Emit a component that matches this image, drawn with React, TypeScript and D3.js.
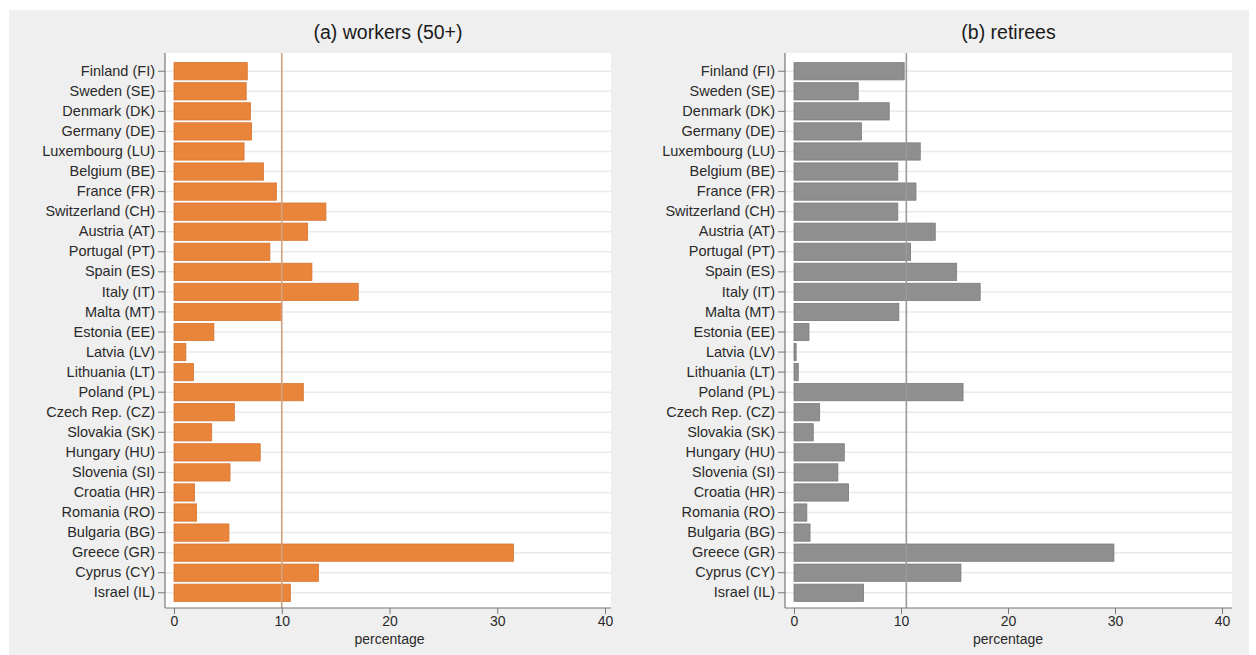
import React, { useEffect, useRef } from 'react';
import * as d3 from 'd3';

const countries = [
  'Finland (FI)', 'Sweden (SE)', 'Denmark (DK)', 'Germany (DE)', 'Luxembourg (LU)',
  'Belgium (BE)', 'France (FR)', 'Switzerland (CH)', 'Austria (AT)', 'Portugal (PT)',
  'Spain (ES)', 'Italy (IT)', 'Malta (MT)', 'Estonia (EE)', 'Latvia (LV)',
  'Lithuania (LT)', 'Poland (PL)', 'Czech Rep. (CZ)', 'Slovakia (SK)', 'Hungary (HU)',
  'Slovenia (SI)', 'Croatia (HR)', 'Romania (RO)', 'Bulgaria (BG)', 'Greece (GR)',
  'Cyprus (CY)', 'Israel (IL)',
];

const workers = [
  6.8, 6.7, 7.1, 7.2, 6.5, 8.3, 9.5, 14.1, 12.4, 8.9, 12.8, 17.1, 10.0, 3.7, 1.1,
  1.8, 12.0, 5.6, 3.5, 8.0, 5.2, 1.9, 2.1, 5.1, 31.5, 13.4, 10.8,
];

const retirees = [
  10.3, 6.0, 8.9, 6.3, 11.8, 9.7, 11.4, 9.7, 13.2, 10.9, 15.2, 17.4, 9.8, 1.4, 0.2,
  0.4, 15.8, 2.4, 1.8, 4.7, 4.1, 5.1, 1.2, 1.5, 29.9, 15.6, 6.5,
];

const xTicks = [0, 10, 20, 30, 40];

const panels = [
  { title: '(a) workers (50+)', values: workers, ref: 10, axisX: 165, x0: 174, x40: 605, right: 611,
    fill: '#e9843b', stroke: '#d8742f', refColor: '#d2a07a' },
  { title: '(b) retirees', values: retirees, ref: 10.5, axisX: 785, x0: 794, x40: 1222, right: 1232,
    fill: '#8f8f8f', stroke: '#7b7b7b', refColor: '#9a9a9a' },
];

const FONT = '"Liberation Sans", Arial, Helvetica, sans-serif';

export default function App() {
  const svgRef = useRef<SVGSVGElement>(null);

  useEffect(() => {
    if (!svgRef.current) return;
    const svg = d3.select(svgRef.current);
    svg.selectAll('*').remove();

    const top = 53;
    const bottom = 608;

    svg.append('rect')
      .attr('x', 9).attr('y', 10).attr('width', 1240).attr('height', 645)
      .attr('fill', '#efefef');

    // bands start a little below the top of the plot region
    const y = d3.scaleBand<string>()
      .domain(countries)
      .range([55, 609])
      .paddingInner(0.14)
      .paddingOuter(0.38);

    panels.forEach((p) => {
      const x = d3.scaleLinear().domain([0, 40]).range([p.x0, p.x40]);
      const g = svg.append('g').style('font-family', FONT);

      // plot region
      g.append('rect')
        .attr('x', p.axisX).attr('y', top)
        .attr('width', p.right - p.axisX).attr('height', bottom - top)
        .attr('fill', '#ffffff');

      // gridlines at each category
      g.selectAll('.grid')
        .data(countries)
        .join('line')
        .attr('x1', p.axisX).attr('x2', p.right)
        .attr('y1', d => (y(d) || 0) + y.bandwidth() / 2)
        .attr('y2', d => (y(d) || 0) + y.bandwidth() / 2)
        .attr('stroke', '#eaeaea')
        .attr('stroke-width', 1.5);

      // bars
      g.selectAll('.bar')
        .data(p.values)
        .join('rect')
        .attr('x', x(0))
        .attr('y', (_, i) => y(countries[i]) || 0)
        .attr('width', d => x(d) - x(0))
        .attr('height', y.bandwidth())
        .attr('fill', p.fill)
        .attr('stroke', p.stroke)
        .attr('stroke-width', 0.8);

      // reference line
      g.append('line')
        .attr('x1', x(p.ref)).attr('x2', x(p.ref))
        .attr('y1', top).attr('y2', bottom)
        .attr('stroke', p.refColor)
        .attr('stroke-width', 1.6);

      // y axis
      const yAxis = g.append('g')
        .attr('transform', `translate(${p.axisX},0)`)
        .call(d3.axisLeft(y).tickSize(7).tickPadding(3).tickSizeOuter(0));
      yAxis.select('.domain').attr('d', `M0,${top}V${bottom}`)
        .attr('stroke', '#777').attr('stroke-width', 1.2);
      yAxis.selectAll('line').attr('stroke', '#777');
      yAxis.selectAll('text')
        .style('font-family', FONT)
        .style('font-size', '14.5px')
        .attr('fill', '#2a2a2a');

      // x axis
      const xAxis = g.append('g')
        .attr('transform', `translate(0,${bottom})`)
        .call(d3.axisBottom(x).tickValues(xTicks).tickSize(6).tickPadding(2).tickSizeOuter(0));
      xAxis.select('.domain').attr('d', `M${p.axisX},0H${p.right}`)
        .attr('stroke', '#777').attr('stroke-width', 1.2);
      xAxis.selectAll('line').attr('stroke', '#777');
      xAxis.selectAll('text')
        .style('font-family', FONT)
        .style('font-size', '14px')
        .attr('fill', '#2a2a2a');

      g.append('text')
        .attr('x', x(20)).attr('y', 644)
        .attr('text-anchor', 'middle')
        .style('font-size', '14px')
        .attr('fill', '#2a2a2a')
        .text('percentage');

      g.append('text')
        .attr('x', (p.axisX + p.right) / 2).attr('y', 39)
        .attr('text-anchor', 'middle')
        .style('font-size', '19.5px')
        .attr('fill', '#1a1a1a')
        .text(p.title);
    });
  }, []);

  return (
    <svg
      ref={svgRef}
      width={1256}
      height={655}
      style={{ position: 'absolute', left: 0, top: 0, background: '#ffffff' }}
    />
  );
}
